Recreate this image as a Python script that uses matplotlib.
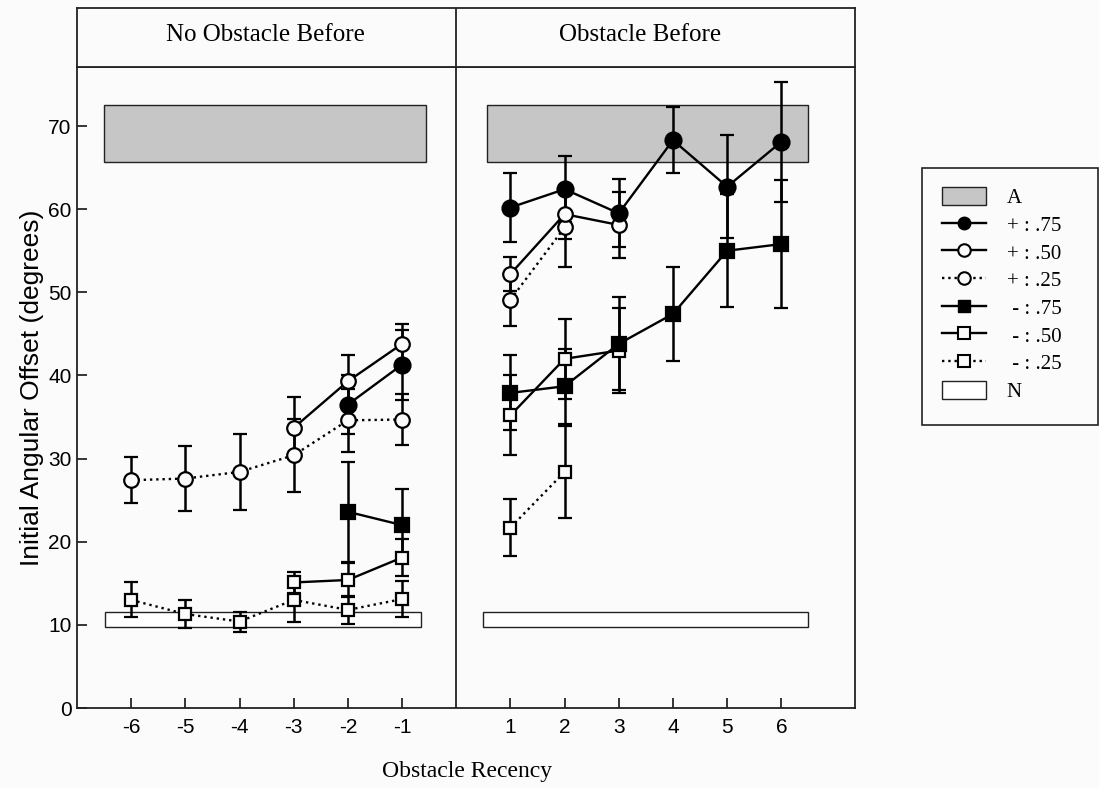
import numpy as np
import matplotlib
matplotlib.use("Agg")
import matplotlib.pyplot as plt
from matplotlib.patches import Rectangle, Patch
from matplotlib.lines import Line2D

nan = np.nan

# obstacle recency (left panel: no obstacle before, right panel: obstacle before)
recency = [-6, -5, -4, -3, -2, -1, 1, 2, 3, 4, 5, 6]

# means (degrees) and error bars
pos75 = [nan, nan, nan, nan, 36.5, 41.3, 60.2, 62.4, 59.5, 68.3, 62.7, 68.1]
pos75_err = [nan, nan, nan, nan, 3.5, 4.2, 4.1, 4.0, 4.1, 4.0, 6.2, 7.2]
pos50 = [nan, nan, nan, 33.7, 39.3, 43.8, 52.2, 59.4, 58.1, nan, nan, nan]
pos50_err = [nan, nan, nan, 3.7, 3.2, 2.4, 2.0, 3.0, 4.0, nan, nan, nan]
pos25 = [27.4, 27.6, 28.4, 30.4, 34.6, 34.7, 49.1, 57.8, nan, nan, nan, nan]
pos25_err = [2.8, 3.9, 4.6, 4.4, 3.8, 3.1, 3.2, 4.7, nan, nan, nan, nan]
neg75 = [nan, nan, nan, nan, 23.6, 22.0, 37.9, 38.7, 43.8, 47.4, 55.0, 55.8]
neg75_err = [nan, nan, nan, nan, 6.0, 4.4, 4.5, 4.5, 5.6, 5.7, 6.8, 7.7]
neg50 = [nan, nan, nan, 15.1, 15.4, 18.1, 35.2, 42.0, 43.0, nan, nan, nan]
neg50_err = [nan, nan, nan, 1.3, 2.0, 2.2, 4.8, 4.8, 5.1, nan, nan, nan]
neg25 = [13.0, 11.3, 10.4, 13.0, 11.8, 13.1, 21.7, 28.4, nan, nan, nan, nan]
neg25_err = [2.1, 1.7, 1.2, 2.7, 1.7, 2.2, 3.4, 5.5, nan, nan, nan, nan]

# reference bands: A (top, gray) and N (bottom, white)
band_A = (65.7, 72.5)
band_N = (9.7, 11.6)

bg = "#fbfbfb"
serif = "Liberation Serif"
sans = "Liberation Sans"

fig = plt.figure(figsize=(10.99, 7.88), dpi=100, facecolor=bg)
W, H = 1099, 788
L, R, T, B = 77, 855, 67, 708
ax = fig.add_axes([L / W, 1 - B / H, (R - L) / W, (B - T) / H], facecolor=bg)
hd = fig.add_axes([L / W, 1 - T / H, (R - L) / W, (T - 8) / H], facecolor=bg)

ax.set_xlim(-7, 7.36)
ax.set_ylim(0, 77.1)
ax.axvline(0, color="#222222", lw=1.3)

for x0, x1 in [(-6.5, -0.55), (0.57, 6.5)]:
    ax.add_patch(Rectangle((x0, band_A[0]), x1 - x0, band_A[1] - band_A[0],
                           facecolor="#c6c6c6", edgecolor="#222222", lw=1.0, zorder=1))
for x0, x1 in [(-6.48, -0.65), (0.49, 6.5)]:
    ax.add_patch(Rectangle((x0, band_N[0]), x1 - x0, band_N[1] - band_N[0],
                           facecolor="white", edgecolor="#222222", lw=1.0, zorder=1))

series = [
    (pos25, pos25_err, "o", bg, ":", 10.5),
    (pos50, pos50_err, "o", bg, "-", 10.5),
    (pos75, pos75_err, "o", "black", "-", 11.5),
    (neg25, neg25_err, "s", bg, ":", 9),
    (neg50, neg50_err, "s", bg, "-", 9),
    (neg75, neg75_err, "s", "black", "-", 10),
]

xs = np.array(recency, dtype=float)
for vals, errs, mk, fc, ls, ms in series:
    y = np.array(vals, dtype=float)
    e = np.array(errs, dtype=float)
    for half in (slice(0, 6), slice(6, 12)):
        xx, yy, ee = xs[half], y[half], e[half]
        m = ~np.isnan(yy)
        if not m.any():
            continue
        ax.errorbar(xx[m], yy[m], yerr=ee[m], color="black", ls=ls, lw=1.7,
                    marker=mk, ms=ms, mfc=fc, mec="black", mew=1.6,
                    ecolor="black", elinewidth=1.8, capsize=5, capthick=1.8,
                    zorder=3)

ax.set_xticks(recency)
ax.set_xticklabels([str(v) for v in recency])
ax.set_yticks(range(0, 80, 10))
ax.tick_params(direction="in", length=7, width=1.1, labelsize=15)
ax.tick_params(axis="x", pad=7)
ax.tick_params(axis="y", pad=4)
for lab in ax.get_xticklabels() + ax.get_yticklabels():
    lab.set_fontfamily(sans)
for s in ax.spines.values():
    s.set_linewidth(1.3)
    s.set_color("#222222")
ax.set_ylabel("Initial Angular Offset (degrees)", fontsize=19, fontfamily=sans, labelpad=3)
fig.text(467 / W, 1 - 772 / H, "Obstacle Recency", fontsize=17, fontfamily=serif,
         ha="center", va="center")

# header strip
hd.set_xlim(-7, 7.36)
hd.set_ylim(0, 1)
hd.set_xticks([])
hd.set_yticks([])
for s in hd.spines.values():
    s.set_linewidth(1.3)
    s.set_color("#222222")
hd.axvline(0, color="#222222", lw=1.3)
hd.text(-3.52, 0.55, "No Obstacle Before", fontsize=18, fontfamily=serif, ha="center", va="center")
hd.text(3.4, 0.55, "Obstacle Before", fontsize=18, fontfamily=serif, ha="center", va="center")

# legend
fig.patches.append(Rectangle((922 / W, 1 - 425 / H), 176 / W, 257 / H, transform=fig.transFigure,
                             facecolor=bg, edgecolor="#222222", lw=1.2, zorder=0))
handles = [
    Patch(facecolor="#c6c6c6", edgecolor="#222222"),
    Line2D([], [], color="black", ls="-", lw=1.7, marker="o", ms=9, mfc="black", mec="black"),
    Line2D([], [], color="black", ls="-", lw=1.7, marker="o", ms=9, mfc=bg, mec="black", mew=1.5),
    Line2D([], [], color="black", ls=":", lw=1.7, marker="o", ms=9, mfc=bg, mec="black", mew=1.5),
    Line2D([], [], color="black", ls="-", lw=1.7, marker="s", ms=8, mfc="black", mec="black"),
    Line2D([], [], color="black", ls="-", lw=1.7, marker="s", ms=8, mfc=bg, mec="black", mew=1.5),
    Line2D([], [], color="black", ls=":", lw=1.7, marker="s", ms=8, mfc=bg, mec="black", mew=1.5),
    Patch(facecolor="white", edgecolor="#222222"),
]
labels = ["A", "+ : .75", "+ : .50", "+ : .25", " - : .75", " - : .50", " - : .25", "N"]
fig.legend(handles, labels, loc="upper left", bbox_to_anchor=(942 / W, 1 - 187 / H),
           frameon=False, borderpad=0, borderaxespad=0, handlelength=2.1,
           handleheight=0.96, labelspacing=0.31, handletextpad=1.0,
           prop={"family": serif, "size": 15})

fig.savefig("out.png", dpi=100, facecolor=bg)
